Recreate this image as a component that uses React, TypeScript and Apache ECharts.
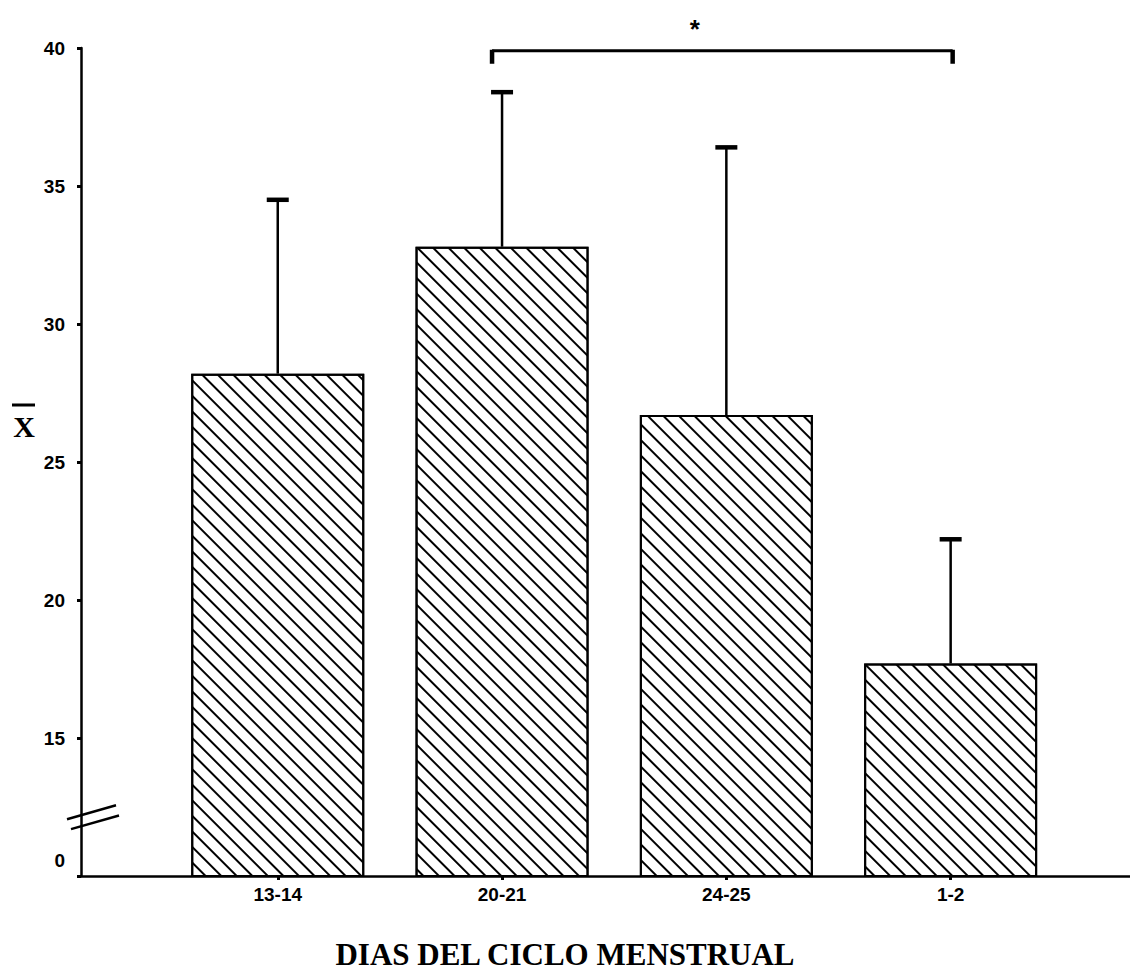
import React, { useEffect, useRef } from "react";
import * as echarts from "echarts";

const CATEGORIES = ["13-14", "20-21", "24-25", "1-2"];
const MEANS = [28.2, 32.8, 26.7, 17.7];
const UPPER = [34.5, 38.4, 36.4, 22.2];
const Y_TICK_VALUES = [10, 15, 20, 25, 30, 35, 40];
const Y_TICK_LABELS = ["0", "15", "20", "25", "30", "35", "40"];
const COMPARISONS = [[1, 3]];
const COMPARISON_LABELS = ["*"];
const BRACKET_LEVEL = 39.9;
const AXIS_BREAK_AT = 12;
const X_AXIS_TITLE = "DIAS DEL CICLO MENSTRUAL";
const Y_AXIS_TITLE = "X";

export default function App() {
  const ref = useRef<HTMLDivElement>(null);
  useEffect(() => {
    document.body.style.margin = "0";
    const chart = echarts.init(ref.current!, undefined, { renderer: "svg" });
    const GRID_TOP = 48;
    const GRID_BOTTOM = 97;
    const option: any = {
      animation: false,
      backgroundColor: "#fff",
      title: {
        text: X_AXIS_TITLE,
        left: "center",
        top: 934,
        textStyle: { fontFamily: "Liberation Serif", fontWeight: "bold", fontSize: 31, color: "#000" },
      },
      grid: [
        { left: 81, right: 0, top: GRID_TOP, bottom: GRID_BOTTOM },
        { left: 165.6, width: 897.2, top: GRID_TOP, bottom: GRID_BOTTOM },
      ],
      xAxis: [
        {
          gridIndex: 0, type: "value", min: 0, max: 1,
          axisLine: { show: true, lineStyle: { color: "#000", width: 2.5 } },
          axisTick: { show: false }, axisLabel: { show: false }, splitLine: { show: false },
        },
        {
          gridIndex: 1, type: "category", data: CATEGORIES,
          axisLine: { show: false },
          axisTick: { show: true, alignWithLabel: true, length: 4, lineStyle: { color: "#000", width: 3 } },
          axisLabel: { color: "#000", fontFamily: "Liberation Sans", fontWeight: "bold", fontSize: 19, margin: 9 },
          splitLine: { show: false },
        },
      ],
      yAxis: [
        {
          gridIndex: 0, type: "value", min: 10, max: 40, interval: 5,
          axisLine: { show: true, lineStyle: { color: "#000", width: 2.5 } },
          axisTick: { show: true, length: 4, lineStyle: { color: "#000", width: 3 } },
          axisLabel: {
            color: "#000", fontFamily: "Liberation Sans", fontWeight: "bold", fontSize: 19, margin: 16,
            formatter: (v: number) => {
              const i = Y_TICK_VALUES.indexOf(v);
              const t = i >= 0 ? Y_TICK_LABELS[i] : "";
              return i === 0 ? "{z|" + t + "}" : t;
            },
            rich: {
              z: { color: "#000", fontFamily: "Liberation Sans", fontWeight: "bold", fontSize: 19, padding: [0, 0, 32, 0] },
            },
          },
          splitLine: { show: false },
        },
        { gridIndex: 1, type: "value", min: 10, max: 40, interval: 5, show: false },
      ],
      series: [
        {
          type: "bar", xAxisIndex: 1, yAxisIndex: 1, data: MEANS, barWidth: 173,
          itemStyle: {
            color: "#fff", borderColor: "#000", borderWidth: 2,
            decal: {
              symbol: "rect", symbolSize: 1, color: "#000", backgroundColor: "#fff",
              dashArrayX: [1, 0], dashArrayY: [2, 8.6], rotation: Math.PI / 4,
            },
          },
        },
        {
          type: "custom", xAxisIndex: 1, yAxisIndex: 1, z: 5,
          data: CATEGORIES.map((_, i) => [i, MEANS[i], UPPER[i]]),
          encode: { x: 0, y: [1, 2] },
          renderItem: (params: any, api: any) => {
            const i = api.value(0);
            const b = api.coord([i, api.value(1)]);
            const t = api.coord([i, api.value(2)]);
            return {
              type: "group",
              children: [
                { type: "line", shape: { x1: t[0], y1: b[1], x2: t[0], y2: t[1] }, style: { stroke: "#000", lineWidth: 2.5 } },
                { type: "line", shape: { x1: t[0] - 11, y1: t[1], x2: t[0] + 11, y2: t[1] }, style: { stroke: "#000", lineWidth: 4.5 } },
              ],
            };
          },
        },
        {
          type: "custom", xAxisIndex: 1, yAxisIndex: 1, z: 5, clip: false,
          data: COMPARISONS.map(([a, b]) => [a, b, BRACKET_LEVEL]),
          encode: { x: [0, 1], y: 2 },
          renderItem: (params: any, api: any) => {
            const l = api.coord([api.value(0), api.value(2)]);
            const r = api.coord([api.value(1), api.value(2)]);
            const lx = l[0] - 10;
            const rx = r[0] + 2;
            return {
              type: "group",
              children: [
                { type: "line", shape: { x1: lx, y1: l[1], x2: rx, y2: r[1] }, style: { stroke: "#000", lineWidth: 3 } },
                { type: "line", shape: { x1: lx, y1: l[1] - 1, x2: lx, y2: l[1] + 13 }, style: { stroke: "#000", lineWidth: 4.5 } },
                { type: "line", shape: { x1: rx, y1: r[1] - 1, x2: rx, y2: r[1] + 13 }, style: { stroke: "#000", lineWidth: 4.5 } },
                {
                  type: "text", x: lx + (rx - lx) * 0.44, y: l[1] - 22,
                  style: { text: COMPARISON_LABELS[params.dataIndex], fill: "#000", font: 'bold 26px "Liberation Sans"', align: "center", verticalAlign: "middle" },
                },
              ],
            };
          },
        },
        {
          type: "custom", xAxisIndex: 0, yAxisIndex: 0, z: 5, clip: false,
          data: [[0, AXIS_BREAK_AT]],
          renderItem: (params: any, api: any) => {
            const c = api.coord([api.value(0), api.value(1)]);
            const s = 0.286;
            return {
              type: "group",
              children: [
                { type: "line", shape: { x1: c[0] - 14, y1: c[1] - 5.5 + 14 * s, x2: c[0] + 35, y2: c[1] - 5.5 - 35 * s }, style: { stroke: "#000", lineWidth: 2.5 } },
                { type: "line", shape: { x1: c[0] - 10, y1: c[1] + 5.5 + 10 * s, x2: c[0] + 38, y2: c[1] + 5.5 - 38 * s }, style: { stroke: "#000", lineWidth: 2.5 } },
              ],
            };
          },
        },
      ],
      graphic: [
        {
          type: "text", x: 24, y: 426,
          style: { text: Y_AXIS_TITLE, fill: "#000", font: 'bold 30px "Liberation Serif"', align: "center", verticalAlign: "middle" },
        },
        { type: "line", shape: { x1: 12, y1: 405, x2: 35, y2: 405 }, style: { stroke: "#000", lineWidth: 3 } },
      ],
    };
    chart.setOption(option);
    return () => chart.dispose();
  }, []);
  return <div ref={ref} style={{ width: 1130, height: 973 }} />;
}
